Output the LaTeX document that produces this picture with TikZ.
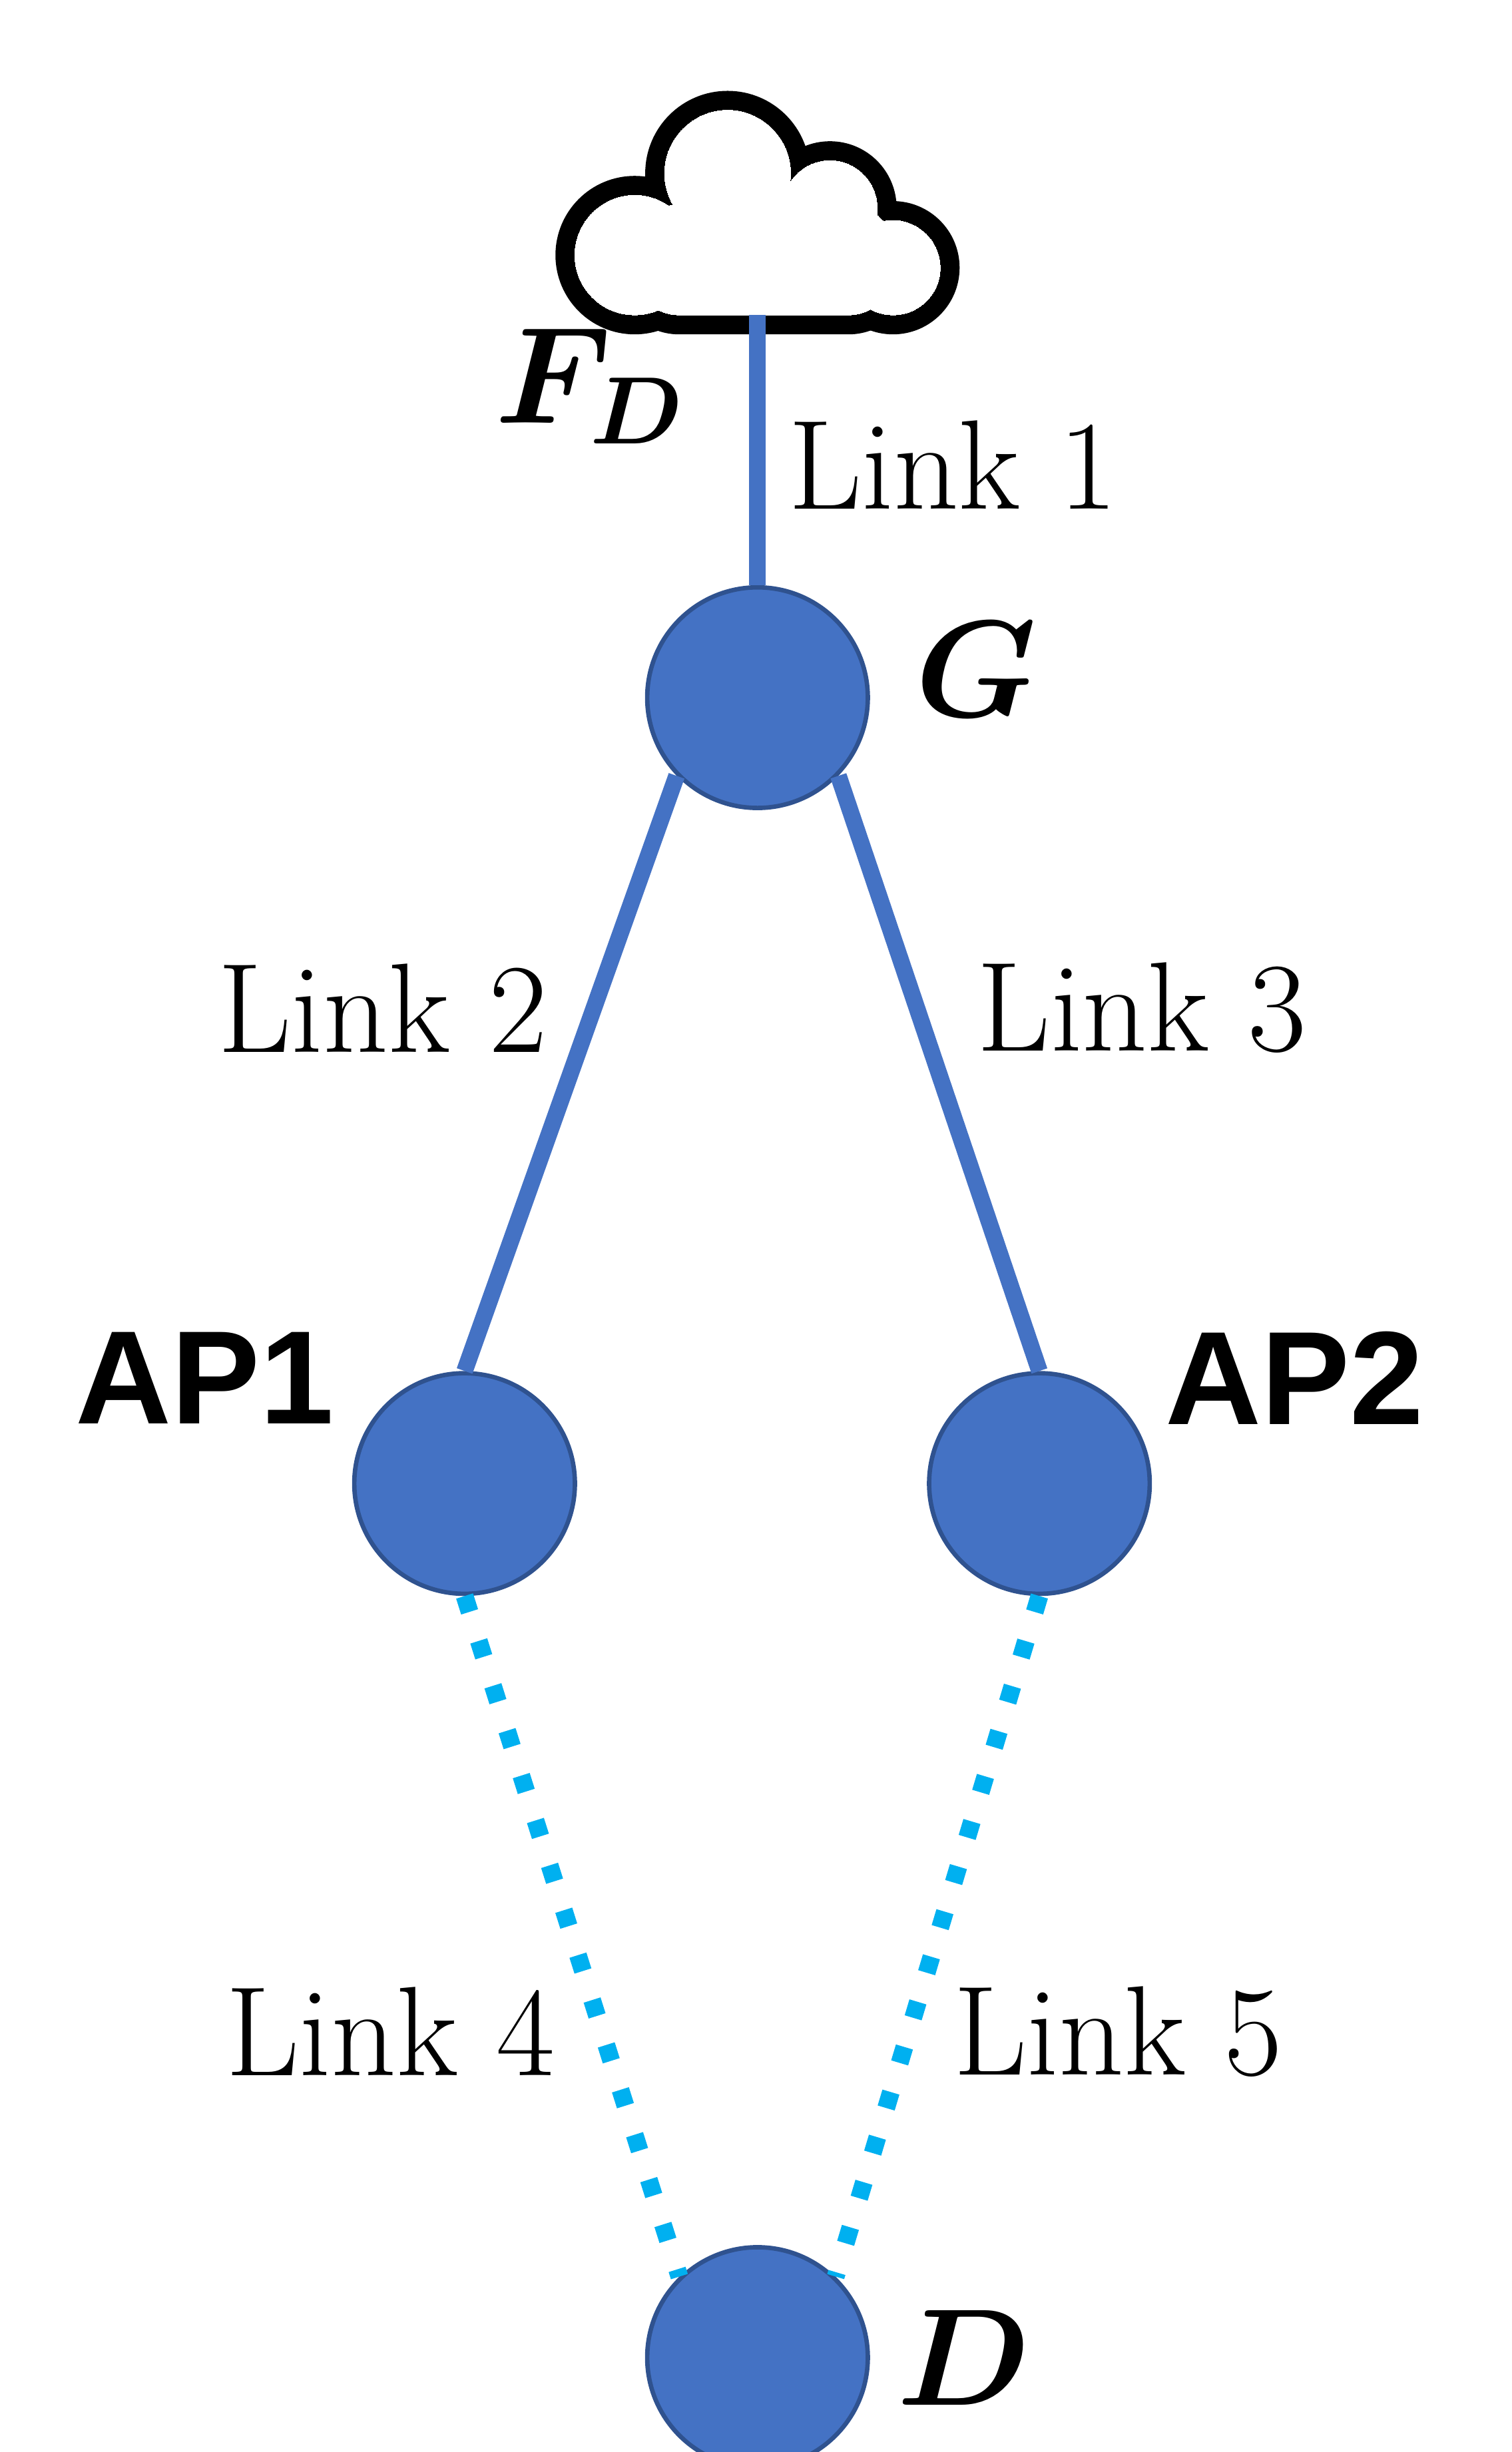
\documentclass[tikz,border=0pt]{standalone}
\usepackage{amsmath,bm}
\usepackage{fontspec}
\setsansfont{Liberation Sans}
\definecolor{nodeblue}{HTML}{4472C4}
\definecolor{nodeedge}{HTML}{2F528F}
\definecolor{linkcyan}{HTML}{00B0F0}
\begin{document}
\begin{tikzpicture}
          [x=0.01cm,y=-0.01cm,
           station/.style={draw=nodeedge, line width=0.8pt, fill=nodeblue, circle, inner sep=0pt, minimum size=1.4cm},
           wired/.style={draw=nodeblue, line width=3pt},
           wireless/.style={draw=linkcyan, line width=3.2pt, dash pattern=on 3pt off 5.5pt},
           linklabel/.style={font=\fontsize{23}{28}\selectfont},
           aplabel/.style={font=\sffamily\bfseries\fontsize{24}{28}\selectfont},
           mathlabel/.style={font=\fontsize{23}{28}\selectfont}]
        \useasboundingbox (0,0) rectangle (960,1557);
        % cloud
        \foreach \w/\c in {7pt/black, 0pt/white} {
          \fill[\c, draw=\c, line width=\w] (403,162) circle (38) (462,110) circle (40) (527,132) circle (30) (567,170) circle (30);
          \fill[\c, draw=\c, line width=\w, rounded corners=8] (403,130) rectangle (567,200);
        }
        \coordinate (cloud) at (481,200);

        \node[station] (G) at (481,443) {};
        \node[station] (AP1) at (295,942) {};
        \node[station] (AP2) at (660,942) {};
        \node[station] (D) at (481,1497) {};

        \draw[wired] (cloud) -- (G.north);
        \draw[wired] (G.224) -- (AP1.north);
        \draw[wired] (G.316) -- (AP2.north);
        \draw[wireless] (AP1.south) -- (D.134);
        \draw[wireless] (AP2.south) -- (D.46);

        \node[linklabel] (l1) at (605,295) {Link 1};
        \node[linklabel] (l2) at (243,640) {Link 2};
        \node[linklabel] (l3) at (725,640) {Link 3};
        \node[linklabel] (l4) at (248,1290) {Link 4};
        \node[linklabel] (l5) at (710,1290) {Link 5};
        \node[aplabel] (a1) at (130,875) {AP1};
        \node[aplabel] (a2) at (822,875) {AP2};
        \node[mathlabel] (fd) at (375,245) {$\bm{F_D}$};
        \node[mathlabel] (gl) at (620,425) {$\bm{G}$};
        \node[mathlabel] (dl) at (612,1497) {$\bm{D}$};
      \end{tikzpicture}
\end{document}
